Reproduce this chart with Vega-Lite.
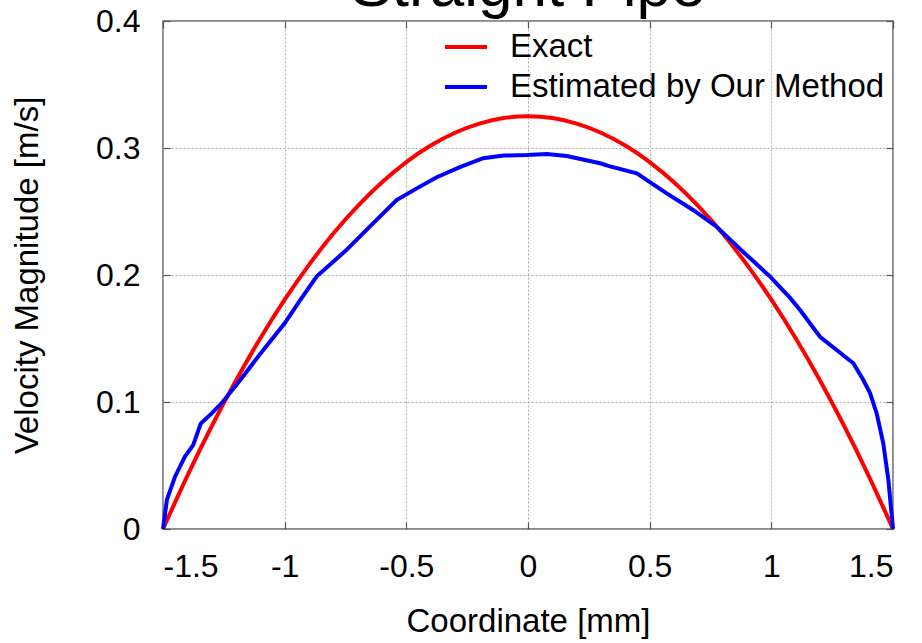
{
  "$schema": "https://vega.github.io/schema/vega-lite/v6.json",
  "width": 730,
  "height": 508,
  "autosize": {"type": "none"},
  "padding": {"left": 163, "top": 21, "right": 29, "bottom": 114},
  "background": "white",
  "title": {"text": "Straight Pipe", "fontSize": 62, "font": "Liberation Sans", "fontWeight": "normal", "baseline": "alphabetic", "offset": 0, "dy": 63, "anchor": "middle", "color": "black"},
  "config": {
    "view": {"stroke": "#666666", "strokeWidth": 1.5},
    "font": "Liberation Sans",
    "axis": {
      "grid": true, "gridColor": "#aaaaaa", "gridDash": [2, 2], "gridWidth": 1,
      "domain": false, "tickColor": "#555555", "tickWidth": 1.2, "tickSize": -7,
      "labelFont": "Liberation Sans", "labelFontSize": 32, "labelColor": "black",
      "titleFont": "Liberation Sans", "titleFontSize": 33, "titleFontWeight": "normal", "titleColor": "black"
    }
  },
  "datasets": {
    "exact": [
      {"x": -1.5, "y": 0, "series": "Exact"},
      {"x": -1.4, "y": 0.0419, "series": "Exact"},
      {"x": -1.3, "y": 0.0809, "series": "Exact"},
      {"x": -1.2, "y": 0.117, "series": "Exact"},
      {"x": -1.1, "y": 0.1502, "series": "Exact"},
      {"x": -1.0, "y": 0.1806, "series": "Exact"},
      {"x": -0.9, "y": 0.208, "series": "Exact"},
      {"x": -0.8, "y": 0.2326, "series": "Exact"},
      {"x": -0.7, "y": 0.2542, "series": "Exact"},
      {"x": -0.6, "y": 0.273, "series": "Exact"},
      {"x": -0.5, "y": 0.2889, "series": "Exact"},
      {"x": -0.4, "y": 0.3019, "series": "Exact"},
      {"x": -0.3, "y": 0.312, "series": "Exact"},
      {"x": -0.2, "y": 0.3192, "series": "Exact"},
      {"x": -0.1, "y": 0.3236, "series": "Exact"},
      {"x": 0.0, "y": 0.325, "series": "Exact"},
      {"x": 0.1, "y": 0.3236, "series": "Exact"},
      {"x": 0.2, "y": 0.3192, "series": "Exact"},
      {"x": 0.3, "y": 0.312, "series": "Exact"},
      {"x": 0.4, "y": 0.3019, "series": "Exact"},
      {"x": 0.5, "y": 0.2889, "series": "Exact"},
      {"x": 0.6, "y": 0.273, "series": "Exact"},
      {"x": 0.7, "y": 0.2542, "series": "Exact"},
      {"x": 0.8, "y": 0.2326, "series": "Exact"},
      {"x": 0.9, "y": 0.208, "series": "Exact"},
      {"x": 1.0, "y": 0.1806, "series": "Exact"},
      {"x": 1.1, "y": 0.1502, "series": "Exact"},
      {"x": 1.2, "y": 0.117, "series": "Exact"},
      {"x": 1.3, "y": 0.0809, "series": "Exact"},
      {"x": 1.4, "y": 0.0419, "series": "Exact"},
      {"x": 1.5, "y": 0, "series": "Exact"}
    ],
    "est": [
      {"x": -1.5, "y": 0, "series": "Estimated by Our Method"},
      {"x": -1.484, "y": 0.023, "series": "Estimated by Our Method"},
      {"x": -1.451, "y": 0.041, "series": "Estimated by Our Method"},
      {"x": -1.41, "y": 0.057, "series": "Estimated by Our Method"},
      {"x": -1.376, "y": 0.066, "series": "Estimated by Our Method"},
      {"x": -1.345, "y": 0.083, "series": "Estimated by Our Method"},
      {"x": -1.3, "y": 0.091, "series": "Estimated by Our Method"},
      {"x": -1.259, "y": 0.099, "series": "Estimated by Our Method"},
      {"x": -1.184, "y": 0.117, "series": "Estimated by Our Method"},
      {"x": -1.1, "y": 0.138, "series": "Estimated by Our Method"},
      {"x": -1.0, "y": 0.162, "series": "Estimated by Our Method"},
      {"x": -0.937, "y": 0.18, "series": "Estimated by Our Method"},
      {"x": -0.868, "y": 0.199, "series": "Estimated by Our Method"},
      {"x": -0.75, "y": 0.219, "series": "Estimated by Our Method"},
      {"x": -0.64, "y": 0.24, "series": "Estimated by Our Method"},
      {"x": -0.54, "y": 0.259, "series": "Estimated by Our Method"},
      {"x": -0.45, "y": 0.269, "series": "Estimated by Our Method"},
      {"x": -0.375, "y": 0.277, "series": "Estimated by Our Method"},
      {"x": -0.28, "y": 0.285, "series": "Estimated by Our Method"},
      {"x": -0.184, "y": 0.292, "series": "Estimated by Our Method"},
      {"x": -0.1, "y": 0.294, "series": "Estimated by Our Method"},
      {"x": -0.005, "y": 0.2945, "series": "Estimated by Our Method"},
      {"x": 0.077, "y": 0.2953, "series": "Estimated by Our Method"},
      {"x": 0.159, "y": 0.2937, "series": "Estimated by Our Method"},
      {"x": 0.296, "y": 0.288, "series": "Estimated by Our Method"},
      {"x": 0.337, "y": 0.2855, "series": "Estimated by Our Method"},
      {"x": 0.447, "y": 0.28, "series": "Estimated by Our Method"},
      {"x": 0.57, "y": 0.2643, "series": "Estimated by Our Method"},
      {"x": 0.68, "y": 0.251, "series": "Estimated by Our Method"},
      {"x": 0.775, "y": 0.238, "series": "Estimated by Our Method"},
      {"x": 0.88, "y": 0.219, "series": "Estimated by Our Method"},
      {"x": 0.995, "y": 0.1987, "series": "Estimated by Our Method"},
      {"x": 1.077, "y": 0.182, "series": "Estimated by Our Method"},
      {"x": 1.118, "y": 0.1724, "series": "Estimated by Our Method"},
      {"x": 1.2, "y": 0.1514, "series": "Estimated by Our Method"},
      {"x": 1.337, "y": 0.1305, "series": "Estimated by Our Method"},
      {"x": 1.378, "y": 0.1173, "series": "Estimated by Our Method"},
      {"x": 1.406, "y": 0.1068, "series": "Estimated by Our Method"},
      {"x": 1.433, "y": 0.091, "series": "Estimated by Our Method"},
      {"x": 1.46, "y": 0.0675, "series": "Estimated by Our Method"},
      {"x": 1.481, "y": 0.0386, "series": "Estimated by Our Method"},
      {"x": 1.5, "y": 0, "series": "Estimated by Our Method"}
    ]
  },
  "layer": [
    {
      "data": {"name": "exact"},
      "mark": {"type": "line", "strokeWidth": 4, "interpolate": "monotone"},
      "encoding": {
        "x": {"field": "x", "type": "quantitative", "scale": {"domain": [-1.5, 1.5], "nice": false},
          "axis": {"values": [-1.5, -1, -0.5, 0, 0.5, 1, 1.5], "labelExpr": "'' + datum.value", "title": "Coordinate [mm]", "labelPadding": 29, "titlePadding": 23}},
        "y": {"field": "y", "type": "quantitative", "scale": {"domain": [0, 0.4], "nice": false},
          "axis": {"values": [0, 0.1, 0.2, 0.3, 0.4], "labelExpr": "'' + datum.value", "title": "Velocity Magnitude [m/s]", "labelPadding": 30, "titlePadding": 51}},
        "color": {"field": "series", "type": "nominal",
          "scale": {"domain": ["Exact", "Estimated by Our Method"], "range": ["#ff0000", "#0000ff"]},
          "legend": {"title": null, "orient": "none", "legendX": 280, "legendY": 3, "direction": "vertical",
            "symbolType": "stroke", "symbolSize": 1764, "symbolStrokeWidth": 4, "padding": 0,
            "labelFont": "Liberation Sans", "labelFontSize": 33, "labelColor": "black", "labelOffset": 21, "rowPadding": -4, "labelLimit": 600}}
      }
    },
    {
      "data": {"name": "est"},
      "mark": {"type": "line", "strokeWidth": 4},
      "encoding": {
        "x": {"field": "x", "type": "quantitative", "axis": null},
        "y": {"field": "y", "type": "quantitative", "axis": null},
        "color": {"field": "series", "type": "nominal"}
      }
    },
    {
      "data": {"name": "exact"},
      "mark": {"type": "point", "opacity": 0},
      "encoding": {
        "x": {"field": "x", "type": "quantitative", "axis": {"orient": "top", "values": [-1.5, -1, -0.5, 0, 0.5, 1, 1.5], "labels": false, "grid": false, "title": null}},
        "y": {"field": "y", "type": "quantitative", "axis": {"orient": "right", "values": [0, 0.1, 0.2, 0.3, 0.4], "labels": false, "grid": false, "title": null}}
      }
    }
  ],
  "resolve": {"axis": {"x": "independent", "y": "independent"}}
}
